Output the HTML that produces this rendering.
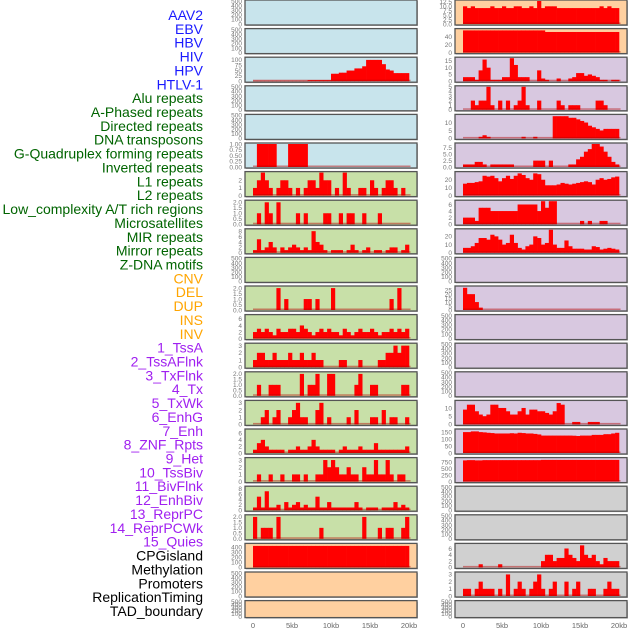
<!DOCTYPE html>
<html><head><meta charset="utf-8">
<style>
html,body{margin:0;padding:0;background:#fff;}
svg{display:block;font-family:"Liberation Sans",sans-serif;}
</style></head>
<body>
<svg id="chart" width="630" height="630" viewBox="0 0 630 630" xmlns="http://www.w3.org/2000/svg">
<g id="labels"></g>
<g id="panels"></g>
<g id="xaxes"></g>
</svg>
<script>
// ---------- data ----------
const featureLabels = ["AAV2","EBV","HBV","HIV","HPV","HTLV-1","Alu repeats","A-Phased repeats","Directed repeats","DNA transposons","G-Quadruplex forming repeats","Inverted repeats","L1 repeats","L2 repeats","Low_complexity A/T rich regions","Microsatellites","MIR repeats","Mirror repeats","Z-DNA motifs","CNV","DEL","DUP","INS","INV","1_TssA","2_TssAFlnk","3_TxFlnk","4_Tx","5_TxWk","6_EnhG","7_Enh","8_ZNF_Rpts","9_Het","10_TssBiv","11_BivFlnk","12_EnhBiv","13_ReprPC","14_ReprPCWk","15_Quies","CPGisland","Methylation","Promoters","ReplicationTiming","TAD_boundary"];
const labelGroups = [6,13,5,15,5];
const xTickLabels = ["0","5kb","10kb","15kb","20kb"];
const xTickValues = [0,5,10,15,20];
const binSize = 0.5;

// left column series (40 bins of 0.5kb); null = empty panel
const L_HIV = [2,2,2,2,2,2,2,2,2,2,2,2,2,2,5,5,5,5,5,5,35,35,40,40,50,50,60,60,70,100,100,100,100,80,55,50,38,38,38,38];
const L_GQuad = [0,1,1,1,1,1,0,0,0,1,1,1,1,1,0,0,0,0,0,0,0,0,0,0,0,0,0,0,0,0,0,0,0,0,0,0,0,0,0,0];
const L_L1 = [1,2,3,2,1,0,1,2,2,1,0,1,0,1,2,2,1,3,2,2,0,1,0,3,1,0,0,1,1,0,2,1,0,1,2,2,1,0,1,0];
const L_LowC = [0,1,0,2,1,0,2,0,0,0,0,1,0,1,0,0,0,0,1,1,0,0,1,0,1,1,0,0,1,0,0,0,1,0,0,0,0,0,0,0];
const L_MIR = [1,5,1,2,4,2,0,2,1,2,3,2,1,2,1,8,4,3,1,0,1,1,1,0,1,3,1,0,1,2,0,1,1,0,1,2,2,0,1,3];
const L_DEL = [0,0,0,0,0,0,2,0,1,0,0,0,0,1,1,0,1,0,0,0,2,0,0,0,0,0,0,0,0,0,0,0,0,0,0,1,0,2,0,0];
const L_INS = [2,3,2,3,2,1,3,2,2,3,3,2,4,3,2,1,2,3,2,3,2,2,1,3,2,1,2,3,2,2,3,2,1,2,2,3,2,3,2,3];
const L_TssAFlnk = [1,2,2,1,1,2,1,1,1,2,1,1,2,1,1,2,1,1,0,0,0,0,1,1,0,0,0,1,0,0,0,0,1,1,2,2,3,2,3,3];
const L_Tx = [0,1,0,0,1,1,1,0,0,0,0,0,2,0,1,1,2,0,0,2,2,0,0,0,0,0,1,2,0,0,1,1,0,0,0,0,0,0,1,1];
const L_EnhG = [0,0,1,2,0,1,2,0,0,1,2,3,1,1,0,0,2,3,0,1,0,0,0,0,1,0,2,0,0,0,1,1,0,2,0,1,1,0,0,1];
const L_ZNF = [1,3,4,2,1,1,1,1,0,1,1,2,1,1,2,4,2,1,1,1,1,0,1,2,1,1,1,2,1,1,1,3,1,1,1,1,1,1,1,2];
const L_TssBiv = [0,1,0,0,1,0,0,1,0,0,1,1,0,1,0,0,1,1,3,2,3,2,1,1,2,1,1,0,2,1,1,3,1,1,3,1,0,1,1,0];
const L_EnhBiv = [1,5,1,7,1,1,2,0,3,1,2,3,1,2,1,1,5,1,1,3,1,1,1,1,1,1,3,1,0,1,1,1,0,1,1,1,3,1,2,1];
const L_ReprPCWk = [2,0,1,1,1,0,2,0,0,0,0,0,0,0,0,0,0,1,0,0,0,0,0,0,0,0,0,0,2,0,0,0,1,0,1,1,0,0,1,2];
const L_CPG = [430,430,430,430,430,430,430,430,430,430,430,430,430,430,430,430,430,430,430,430,430,430,430,430,430,430,430,430,430,430,430,430,430,430,430,430,430,430,430,430];

// right column series
const R_AAV2 = [10,9,10,9,9,9,9,10,9,9,10,9,9,10,10,9,9,10,9,13,9,10,10,10,9,9,9,9,9,9,9,9,9,9,9,10,9,10,9,9];
const R_EBV = [56,56,56,56,56,56,56,56,56,56,56,56,56,56,56,56,56,56,56,56,56,52,52,52,52,52,52,52,52,52,52,52,52,52,52,52,52,52,52,52];
const R_HIV = [3,3,3,1,8,16,10,1,1,1,3,3,17,12,3,3,3,0,0,8,2,1,0,0,2,0,0,2,3,6,6,4,5,4,3,1,1,0,1,1];
const R_Alu = [0,0,2,1,2,2,5,1,0,2,0,2,0,1,2,5,1,0,0,2,0,0,0,0,2,1,0,1,1,1,0,0,0,0,2,2,1,0,0,0];
const R_Directed = [0,0,0,0,1,2,1,0,0,0,0,0,0,0,0,1,0,0,1,0,0,0,0,14,14,14,14,13,13,12,11,10,8,7,6,5,6,6,6,6];
const R_GQuad = [1,1,1,2,2,1,0,1,1,1,1,1,1,0,0,0,0,0,2.5,2.5,2.5,0,2.5,0,0,0,0,1,1,3,4,6,7,9,9,8,6,4,2,1];
const R_Inverted = [15,16,16,17,18,25,24,25,22,18,22,25,21,25,28,26,22,20,28,27,20,13,13,13,14,16,15,14,15,16,17,18,17,14,20,22,20,21,23,24];
const R_LowC = [2,2,2,1,5,5,5,4,4,4,4,4,4,4,6,6,6,6,6,4,7,5,7,7,0,0,0,0,0,0,1,0,1,0,0,1,1,0,0,0];
const R_MIR = [6,6,8,12,18,18,16,22,20,16,10,12,22,12,6,4,8,10,20,18,10,12,28,10,6,6,15,8,5,5,5,4,4,8,7,4,5,6,5,4];
const R_DEL = [28,20,20,10,3,0,0,0,0,0,0,0,0,0,0,0,0,0,0,0,0,0,0,0,0,0,0,0,0,0,0,0,0,0,0,0,0,0,0,0];
const R_TxWk = [9,12,12,8,6,5,6,12,12,10,10,8,6,6,8,10,6,9,9,8,8,7,6,8,13,12,0,0,1.5,1.5,0,0,1.5,1.5,1.5,0,0,0,0,0];
const R_Enh = [150,150,155,155,150,148,145,143,140,140,140,140,142,140,145,143,140,140,137,133,125,125,125,125,125,125,125,125,124,122,125,125,125,130,130,130,135,135,140,145];
const R_ZNF = [830,840,840,830,830,840,840,840,840,840,840,840,840,840,840,840,840,840,840,840,850,850,850,850,850,850,850,850,850,850,850,850,850,850,850,850,850,850,850,850];
const R_CPG = [0,0,0,0,1,0,0,0,0,1,0,0,0,0,0,0,0,0,0,0,2,4,4,2,3,3,6,4,3,2,7,4,3,4,2,1,3,2,2,2];
const R_Promoters = [1,1,0,1,2,1,1,1,0,1,0,3,0,1,2,1,0,1,2,3,1,0,1,2,0,0,2,0,1,2,0,0,1,1,0,0,1,2,1,1];

const EMPTY = ["0","100","200","300","400","500"];
// per row: [bg, ymax, ticks, series, name]
const leftRows = [
 ["#c8e4ec",500,EMPTY,null,"aav2"],["#c8e4ec",500,EMPTY,null,"ebv"],
 ["#c8e4ec",108,["0","25","50","75","100"],L_HIV,"hiv"],
 ["#c8e4ec",500,EMPTY,null,"alu"],["#c8e4ec",500,EMPTY,null,"dna-transposons"],
 ["#c8e4ec",1.0,["0.00","0.25","0.50","0.75","1.00"],L_GQuad,"g-quadruplex"],
 ["#c8e0a8",3,["0","1","2"],L_L1,"l1"],
 ["#c8e0a8",2.1,["0.0","0.5","1.0","1.5","2.0"],L_LowC,"low-complexity"],
 ["#c8e0a8",8.5,["0","2","4","6","8"],L_MIR,"mir"],
 ["#c8e0a8",500,EMPTY,null,"z-dna"],
 ["#c8e0a8",2.1,["0.0","0.5","1.0","1.5","2.0"],L_DEL,"del"],
 ["#c8e0a8",7,["0","2","4","6"],L_INS,"ins"],
 ["#c8e0a8",3.2,["0","1","2","3"],L_TssAFlnk,"tssaflnk"],
 ["#c8e0a8",2.1,["0.0","0.5","1.0","1.5","2.0"],L_Tx,"tx"],
 ["#c8e0a8",3.2,["0","1","2","3"],L_EnhG,"enhg"],
 ["#c8e0a8",7,["0","2","4","6"],L_ZNF,"znf"],
 ["#c8e0a8",3.2,["0","1","2","3"],L_TssBiv,"tssbiv"],
 ["#c8e0a8",8.5,["0","2","4","6","8"],L_EnhBiv,"enhbiv"],
 ["#c8e0a8",2.1,["0.0","0.5","1.0","1.5","2.0"],L_ReprPCWk,"reprpcwk"],
 ["#ffd0a0",460,["0","100","200","300","400"],L_CPG,"cpgisland"],
 ["#ffd0a0",500,EMPTY,null,"promoters"],
 ["#ffd0a0",500,EMPTY,null,"tad-boundary"]
];
const rightRows = [
 ["#ffd0a0",13,["0.0","2.5","5.0","7.5","10.0","12.5"],R_AAV2,"aav2"],
 ["#ffd0a0",58,["0","20","40"],R_EBV,"ebv"],
 ["#d8c8e0",17,["0","5","10","15"],R_HIV,"hiv"],
 ["#d8c8e0",5,["0","1","2","3","4","5"],R_Alu,"alu"],
 ["#d8c8e0",14.5,["0","5","10"],R_Directed,"directed"],
 ["#d8c8e0",9,["0.0","2.5","5.0","7.5"],R_GQuad,"g-quadruplex"],
 ["#d8c8e0",29,["0","10","20"],R_Inverted,"inverted"],
 ["#d8c8e0",7,["0","2","4","6"],R_LowC,"low-complexity"],
 ["#d8c8e0",28,["0","10","20"],R_MIR,"mir"],
 ["#d8c8e0",500,EMPTY,null,"z-dna"],
 ["#d8c8e0",29,["0","5","10","15","20","25"],R_DEL,"del"],
 ["#d8c8e0",500,EMPTY,null,"ins"],["#d8c8e0",500,EMPTY,null,"tssaflnk"],["#d8c8e0",500,EMPTY,null,"tx"],
 ["#d8c8e0",14,["0","5","10"],R_TxWk,"txwk"],
 ["#d8c8e0",165,["0","50","100","150"],R_Enh,"enh"],
 ["#d8c8e0",900,["0","250","500","750"],R_ZNF,"znf"],
 ["#d0d0d0",500,EMPTY,null,"het"],["#d0d0d0",500,EMPTY,null,"enhbiv"],
 ["#d0d0d0",7.3,["0","2","4","6"],R_CPG,"cpgisland"],
 ["#d0d0d0",3.2,["0","1","2","3"],R_Promoters,"promoters"],
 ["#d0d0d0",500,EMPTY,null,"tad-boundary"]
];

// ---------- drawing ----------
const NS="http://www.w3.org/2000/svg";
function mk(tag,attrs,parent){const e=document.createElementNS(NS,tag);for(const k in attrs)e.setAttribute(k,attrs[k]);parent.appendChild(e);return e;}
const labelColors=["#1a1aff","#006400","#ffa500","#a020f0","#000000"];
const lg=document.getElementById("labels");
let gi=0,cnt=0;
featureLabels.forEach((t,j)=>{
  while(cnt>=labelGroups[gi]){cnt=0;gi++;}
  cnt++;
  const e=mk("text",{x:203,y:15+j*13.86+5,"text-anchor":"end","font-size":"14",fill:labelColors[gi]},lg);
  e.textContent=t;
  
  
});
const pg=document.getElementById("panels");
function drawCol(rows,px,pw,x0,tickX,side){
  const xs=v=>x0+v*7.8;
  rows.forEach((r,i)=>{
    const [bg,ymax,ticks,series,nm]=r;
    const top=i*28.6, h=(i===21)?17:25;
    const g=mk("g",{},pg);
    
    
    mk("rect",{x:px+1,y:top+1,width:pw,height:h,fill:"#bbb"},g);
    mk("rect",{x:px,y:top,width:pw,height:h,fill:bg,stroke:"#555","stroke-width":1.3},g);
    const base=top+h-1, ph=h-2;
    const ys=v=>base-v/ymax*ph;
    if(series){
      series.forEach((v,k)=>{
        if(v<=0)return;
        const b=mk("rect",{x:xs(k*binSize),y:ys(v),width:binSize*7.8+0.3,height:base-ys(v),fill:"#ff0000"},g);
        
        
      });
      mk("rect",{x:xs(0),y:base-1.5,width:xs(20.2)-xs(0),height:1.5,fill:"rgba(180,0,0,0.45)"},g);
    }
    const n=ticks.length;
    ticks.forEach((t,k)=>{
      const v=parseFloat(t);
      const yy=ys(v);
      const e=mk("text",{x:tickX,y:yy+2.3,"text-anchor":"end","font-size":"6.5",fill:"#777"},g);
      e.textContent=t;
      
      
    });
  });
  const xg=document.getElementById("xaxes");
  xTickValues.forEach((v,k)=>{
    const e=mk("text",{x:xs(v),y:628,"text-anchor":"middle","font-size":"7.5",fill:"#666"},xg);
    e.textContent=xTickLabels[k];
    
    
  });
}
drawCol(leftRows,245,172,253,242,"left");
drawCol(rightRows,455,172,463,452,"right");
</script>
</body></html>
